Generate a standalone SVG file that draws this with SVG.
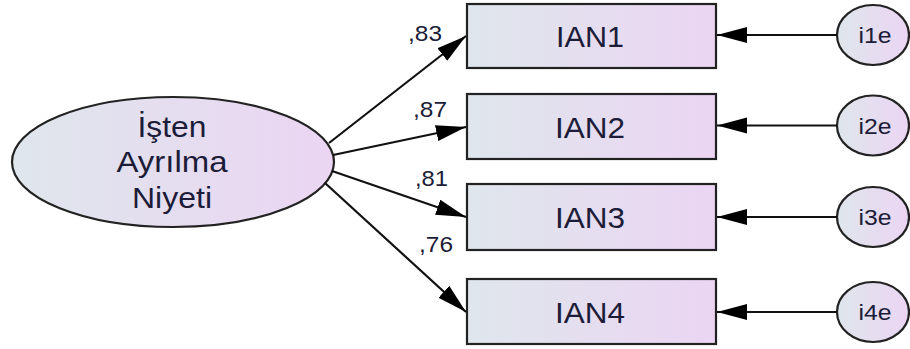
<svg xmlns="http://www.w3.org/2000/svg" width="910" height="349" viewBox="0 0 910 349">
  <defs>
    <linearGradient id="fillGrad" x1="0" y1="0" x2="1" y2="0">
      <stop offset="0" stop-color="#dfe6ec"/>
      <stop offset="1" stop-color="#ebd5f3"/>
    </linearGradient>
    <marker id="arrow" markerUnits="userSpaceOnUse" markerWidth="32" markerHeight="18" refX="30" refY="8" orient="auto">
      <path d="M0,0 L30,8 L0,16 Z" fill="#000"/>
    </marker>
    <style>
      .box { fill: url(#fillGrad); stroke: #222; stroke-width: 2.2; }
      .oval { fill: url(#fillGrad); stroke: #222; stroke-width: 2.2; }
      .txt { font-family: "Liberation Sans", Arial, sans-serif; fill: #1c1c38; text-anchor: middle; }
      .big { font-size: 30px; }
      .small { font-size: 22px; }
      .lbl { font-family: "Liberation Sans", Arial, sans-serif; font-size: 22px; fill: #1c1c38; }
      .conn line { stroke: #111; stroke-width: 2.2; marker-end: url(#arrow); }
    </style>
  </defs>
  <rect width="910" height="349" fill="#fff"/>

  <!-- latent factor -->
  <g id="IAN">
    <ellipse class="oval" cx="173" cy="162" rx="161" ry="65"/>
    <text class="txt big" x="172" y="137" textLength="69" lengthAdjust="spacingAndGlyphs">İşten</text>
    <text class="txt big" x="172" y="172" textLength="111" lengthAdjust="spacingAndGlyphs">Ayrılma</text>
    <text class="txt big" x="172" y="208" textLength="80" lengthAdjust="spacingAndGlyphs">Niyeti</text>
  </g>

  <!-- observed indicators -->
  <g id="IAN1">
    <rect class="box" x="467" y="4" width="249" height="64"/>
    <text class="txt big" x="590" y="47" textLength="68" lengthAdjust="spacingAndGlyphs">IAN1</text>
  </g>
  <g id="IAN2">
    <rect class="box" x="467" y="94" width="249" height="65"/>
    <text class="txt big" x="590" y="138" textLength="70" lengthAdjust="spacingAndGlyphs">IAN2</text>
  </g>
  <g id="IAN3">
    <rect class="box" x="467" y="184" width="249" height="66"/>
    <text class="txt big" x="590" y="228" textLength="70" lengthAdjust="spacingAndGlyphs">IAN3</text>
  </g>
  <g id="IAN4">
    <rect class="box" x="467" y="279" width="249" height="65"/>
    <text class="txt big" x="590" y="323" textLength="70" lengthAdjust="spacingAndGlyphs">IAN4</text>
  </g>

  <!-- error terms -->
  <g id="i1e">
    <ellipse class="oval" cx="873" cy="35" rx="36" ry="30"/>
    <text class="txt small" x="875" y="43" textLength="33" lengthAdjust="spacingAndGlyphs">i1e</text>
  </g>
  <g id="i2e">
    <ellipse class="oval" cx="873" cy="125.5" rx="36" ry="30"/>
    <text class="txt small" x="875" y="134" textLength="33" lengthAdjust="spacingAndGlyphs">i2e</text>
  </g>
  <g id="i3e">
    <ellipse class="oval" cx="873" cy="217" rx="36" ry="30"/>
    <text class="txt small" x="875" y="225" textLength="33" lengthAdjust="spacingAndGlyphs">i3e</text>
  </g>
  <g id="i4e">
    <ellipse class="oval" cx="873" cy="312" rx="36" ry="30"/>
    <text class="txt small" x="875" y="320" textLength="33" lengthAdjust="spacingAndGlyphs">i4e</text>
  </g>

  <!-- paths -->
  <g id="connectors" class="conn">
    <line x1="329" y1="143" x2="466" y2="36"/>
    <line x1="333" y1="155" x2="466" y2="127"/>
    <line x1="332" y1="171" x2="466" y2="217"/>
    <line x1="325" y1="183" x2="466" y2="312"/>
    <line x1="837" y1="35" x2="717" y2="35"/>
    <line x1="837" y1="125.5" x2="717" y2="125.5"/>
    <line x1="837" y1="217" x2="717" y2="217"/>
    <line x1="837" y1="312" x2="717" y2="312"/>
  </g>

  <!-- standardized loadings -->
  <g id="loadings">
    <text class="lbl" x="408" y="41" textLength="34" lengthAdjust="spacingAndGlyphs">,83</text>
    <text class="lbl" x="413" y="117" textLength="34" lengthAdjust="spacingAndGlyphs">,87</text>
    <text class="lbl" x="415" y="186" textLength="33" lengthAdjust="spacingAndGlyphs">,81</text>
    <text class="lbl" x="419" y="252" textLength="34" lengthAdjust="spacingAndGlyphs">,76</text>
  </g>
</svg>
